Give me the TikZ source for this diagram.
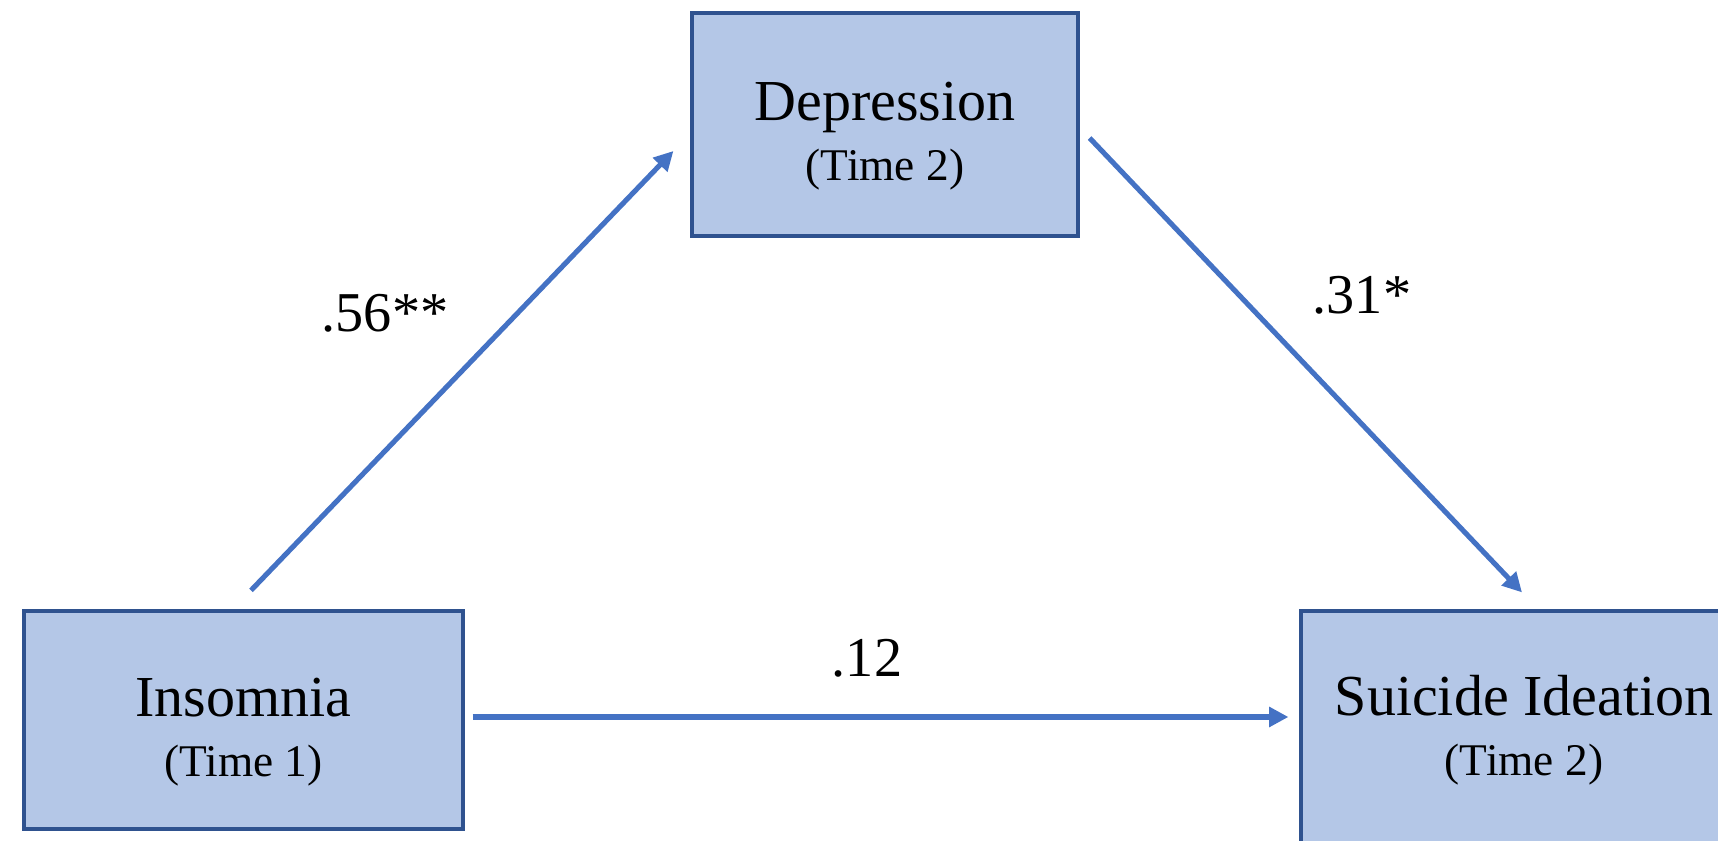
\documentclass[tikz,border=0pt]{standalone}
\usepackage{fontspec}
\setmainfont{Liberation Serif}
\usepackage{xcolor}
\usetikzlibrary{calc, positioning, arrows.meta}
\definecolor{boxfill}{HTML}{B4C7E7}
\definecolor{boxline}{HTML}{2F528F}
\definecolor{arrowblue}{HTML}{4472C4}
\newcommand{\mainsize}{\fontsize{16.5}{17}\selectfont}
\newcommand{\subsize}{\fontsize{12.9}{15}\selectfont}
\newcommand{\dropline}{\rule{0pt}{0.62cm}}

\begin{document}
\begin{tikzpicture}[
    varbox/.style={draw=boxline, fill=boxfill, line width=0.9pt, inner sep=0pt, align=center, font=\mainsize},
    effect/.style={draw=arrowblue, line width=1.45pt, -{Triangle[length=5.5pt,width=5.5pt]}},
    coef/.style={font=\fontsize{16}{18}\selectfont, inner sep=0pt}
  ]
  \useasboundingbox (0,0) rectangle (17.18,8.41);
  \clip (0,0) rectangle (17.18,8.41);
  % variables
  \node[varbox, minimum width=3.86cm, minimum height=2.23cm] (dep) at (8.85,7.165) {\dropline Depression\\{\subsize (Time 2)}};
  \node[varbox, minimum width=4.39cm, minimum height=2.18cm] (ins) at (2.435,1.21) {\dropline Insomnia\\{\subsize (Time 1)}};
  \node[varbox, minimum width=4.46cm, minimum height=2.38cm] (sui) at (15.24,1.11) {Suicide Ideation\\{\subsize (Time 2)}};
  % paths
  \draw[effect] ([shift={(0.075,0.19)}]ins.north) -- ([shift={(-0.17,-0.265)}]dep.west);
  \draw[effect] ([shift={(0.10,-0.135)}]dep.east) -- ([shift={(-0.02,0.17)}]sui.north);
  \draw[effect] ([shift={(0.08,0.03)}]ins.east) coordinate (s3) -- ($(s3 -| sui.west)+(-0.11,0)$);
  % coefficients
  \node[coef] (a) at (3.85,5.28) {.56**};
  \node[coef] (b) at (13.62,5.46) {.31*};
  \node[coef] (c) at (8.67,1.83) {.12};
\end{tikzpicture}
\end{document}
